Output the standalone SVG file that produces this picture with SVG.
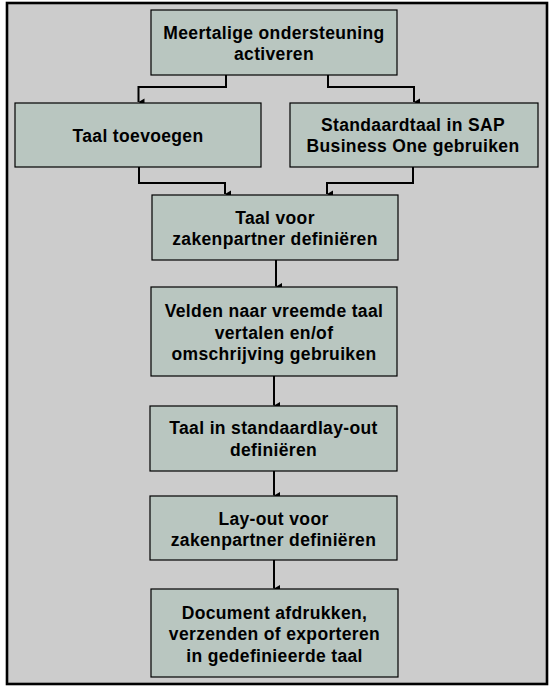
<svg xmlns="http://www.w3.org/2000/svg" width="554" height="691" viewBox="0 0 554 691">
<style>
.box{fill:#B9C6C0;stroke:#000;stroke-width:1.2}
.t{font-family:"Liberation Sans",Arial,sans-serif;font-weight:bold;font-size:17.5px;letter-spacing:0.35px;fill:#000;text-anchor:middle}
.c{fill:none;stroke:#000;stroke-width:2}
</style>
<defs>
<marker id="ah" markerUnits="userSpaceOnUse" markerWidth="8" markerHeight="8" viewBox="0 0 8 8" refX="4" refY="7" orient="auto-start-reverse">
<path d="M0.5,1 L7.5,1 L4,7 Z" fill="#000"/>
</marker>
</defs>
<rect width="554" height="691" fill="#fff"/>
<rect x="7" y="3" width="540" height="681" fill="#CCCCCC" stroke="#000" stroke-width="2.6"/>
<g id="connectors">
<path class="c" d="M226,75 V87 H138.5 V102" marker-end="url(#ah)"/>
<path class="c" d="M328,75 V87 H414 V102" marker-end="url(#ah)"/>
<path class="c" d="M139,167 V183 H225 V194" marker-end="url(#ah)"/>
<path class="c" d="M413,167 V183 H327 V194" marker-end="url(#ah)"/>
<path class="c" d="M276,260 V286.5" marker-end="url(#ah)"/>
<path class="c" d="M274,376 V405.5" marker-end="url(#ah)"/>
<path class="c" d="M274,471 V495.5" marker-end="url(#ah)"/>
<path class="c" d="M274,560 V588.5" marker-end="url(#ah)"/>
</g>
<g id="n1"><rect class="box" x="151" y="10" width="246" height="65"/>
<text class="t" x="274" y="39">Meertalige ondersteuning</text>
<text class="t" x="274" y="60">activeren</text></g>
<g id="n2"><rect class="box" x="15" y="103" width="246" height="64"/>
<text class="t" x="138" y="141.5">Taal toevoegen</text></g>
<g id="n3"><rect class="box" x="290" y="103" width="248" height="64"/>
<text class="t" x="413" y="131">Standaardtaal in SAP</text>
<text class="t" x="413" y="151.5">Business One gebruiken</text></g>
<g id="n4"><rect class="box" x="152" y="195" width="246" height="65"/>
<text class="t" x="275" y="224">Taal voor</text>
<text class="t" x="275" y="245">zakenpartner definiëren</text></g>
<g id="n5"><rect class="box" x="151" y="287" width="246" height="89"/>
<text class="t" x="274" y="317">Velden naar vreemde taal</text>
<text class="t" x="274" y="339">vertalen en/of</text>
<text class="t" x="274" y="360">omschrijving gebruiken</text></g>
<g id="n6"><rect class="box" x="150" y="406" width="247" height="65"/>
<text class="t" x="273.5" y="434">Taal in standaardlay-out</text>
<text class="t" x="273.5" y="455.5">definiëren</text></g>
<g id="n7"><rect class="box" x="150" y="496" width="247" height="64"/>
<text class="t" x="273.5" y="525">Lay-out voor</text>
<text class="t" x="273.5" y="546">zakenpartner definiëren</text></g>
<g id="n8"><rect class="box" x="151" y="589" width="247" height="88"/>
<text class="t" x="274.5" y="619">Document afdrukken,</text>
<text class="t" x="274.5" y="640">verzenden of exporteren</text>
<text class="t" x="274.5" y="661.5">in gedefinieerde taal</text></g>
</svg>
